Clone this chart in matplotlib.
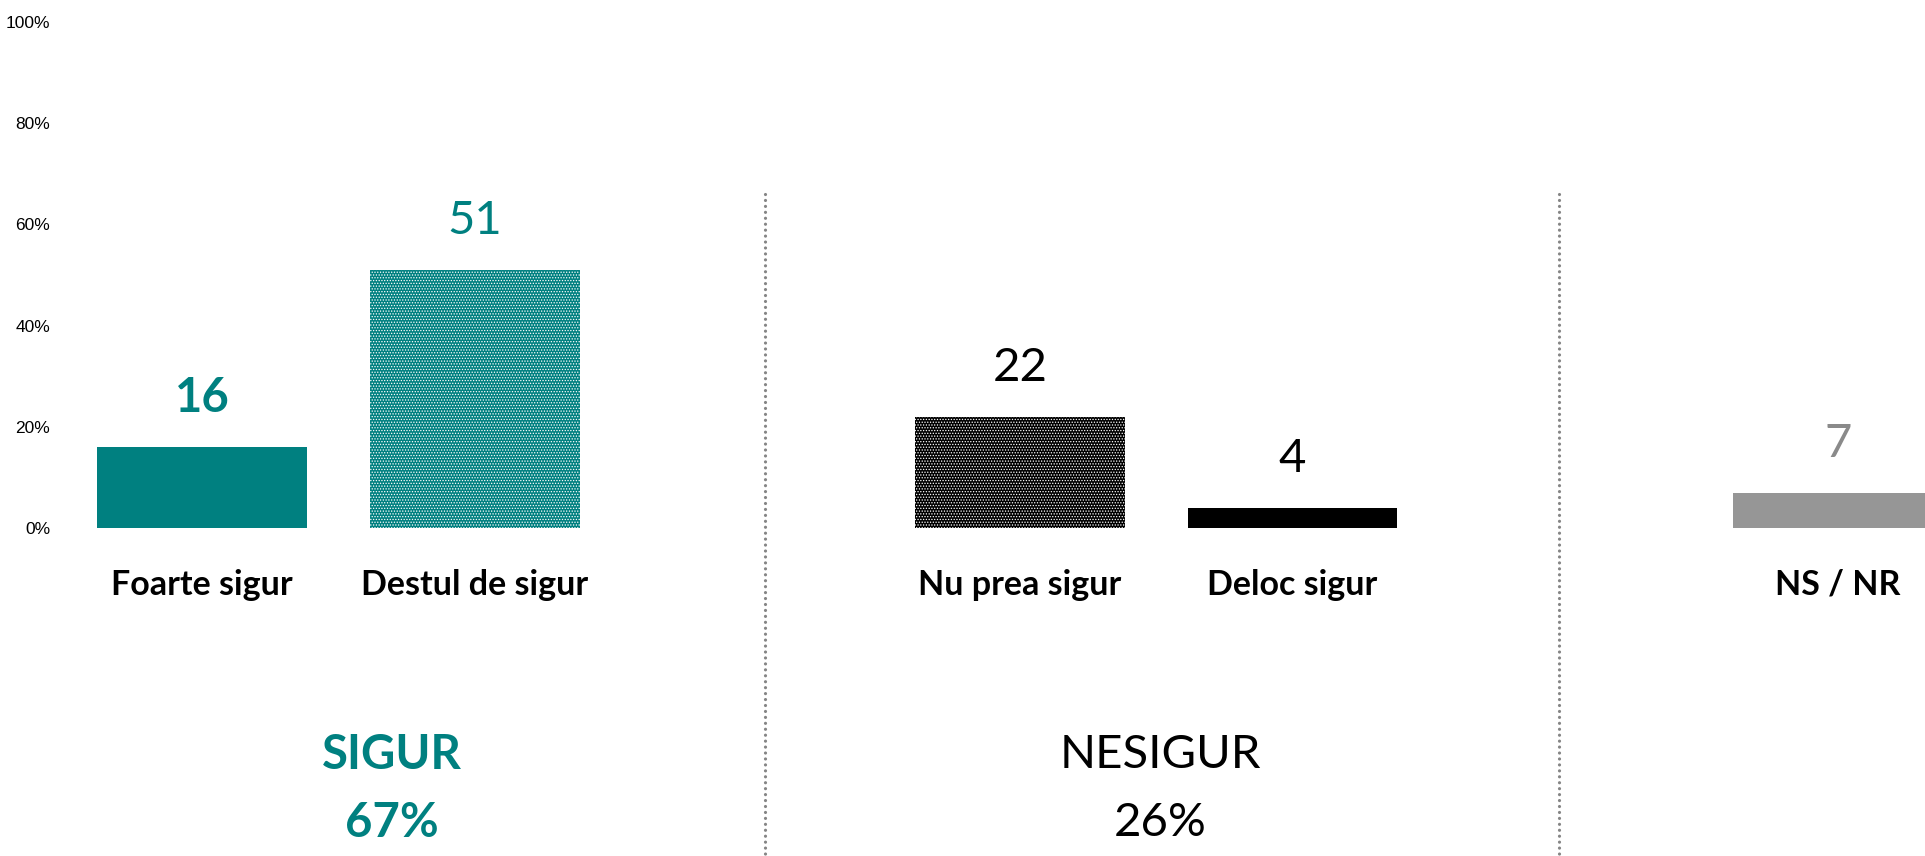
import matplotlib
matplotlib.use("Agg")
import matplotlib.pyplot as plt

categories = ["Foarte sigur", "Destul de sigur", "Nu prea sigur", "Deloc sigur", "NS / NR"]
values = [16, 51, 22, 4, 7]
positions = [0, 1, 3, 4, 6]
groups = ["SIGUR", "NESIGUR"]
group_totals = ["67%", "26%"]
yticks = [0, 20, 40, 60, 80, 100]
ytick_labels = ["0%", "20%", "40%", "60%", "80%", "100%"]

TEAL = "#008080"
GRAY = "#969696"

plt.rcParams["hatch.linewidth"] = 0.6

W, H = 1925, 856
fig = plt.figure(figsize=(W / 100, H / 100), dpi=100)
# axes box: 0% at y=528px, 100% at y=22px, from x=67px to the right edge
ax = fig.add_axes([67 / W, (H - 528) / H, (W - 67) / W, 506 / H])
ax.set_xlim(-0.495, 6.32)
ax.set_ylim(0, 100)

face = [TEAL, TEAL, "black", "black", GRAY]
hatch = [None, "......", "......", None, None]
for x, v, fc, h in zip(positions, values, face, hatch):
    ax.bar(x, v, width=0.77, color=fc, edgecolor="white" if h else fc,
           linewidth=0, hatch=h)

# value labels above bars
lab_col = [TEAL, TEAL, "black", "black", "#8a8a8a"]
lab_wt = ["bold", "normal", "normal", "normal", "normal"]
for x, v, c, w in zip(positions, values, lab_col, lab_wt):
    ax.text(x, v + 9.6, str(v), ha="center", va="center", fontsize=34,
            color=c, fontweight=w, family="Lato")

# category names under the bars
for x, name in zip(positions, categories):
    ax.text(x, -11.2, name, ha="center", va="center", fontsize=24.5,
            fontweight="bold", family="Lato", clip_on=False)

# group summaries
grp_x = [0.698, 3.515]
grp_col = [TEAL, "black"]
grp_wt = ["bold", "normal"]
for gx, g, t, c, w in zip(grp_x, groups, group_totals, grp_col, grp_wt):
    ax.text(gx, -44.9, g, ha="center", va="center", fontsize=34, color=c,
            fontweight=w, family="Lato", clip_on=False)
    ax.text(gx, -58.3, t, ha="center", va="center", fontsize=34, color=c,
            fontweight=w, family="Lato", clip_on=False)

# dotted separators between groups
for sx in [2.065, 4.978]:
    ax.plot([sx, sx], [66, -65], color="#858585", lw=2.3,
            linestyle=(0, (0.01, 1.85)), dash_capstyle="round", clip_on=False)

ax.set_yticks(yticks)
ax.set_yticklabels(ytick_labels, family="Liberation Sans", fontsize=12.5)
ax.tick_params(axis="y", length=0, pad=12)
ax.set_xticks([])
for s in ax.spines.values():
    s.set_visible(False)

fig.savefig("out.png", dpi=100)
